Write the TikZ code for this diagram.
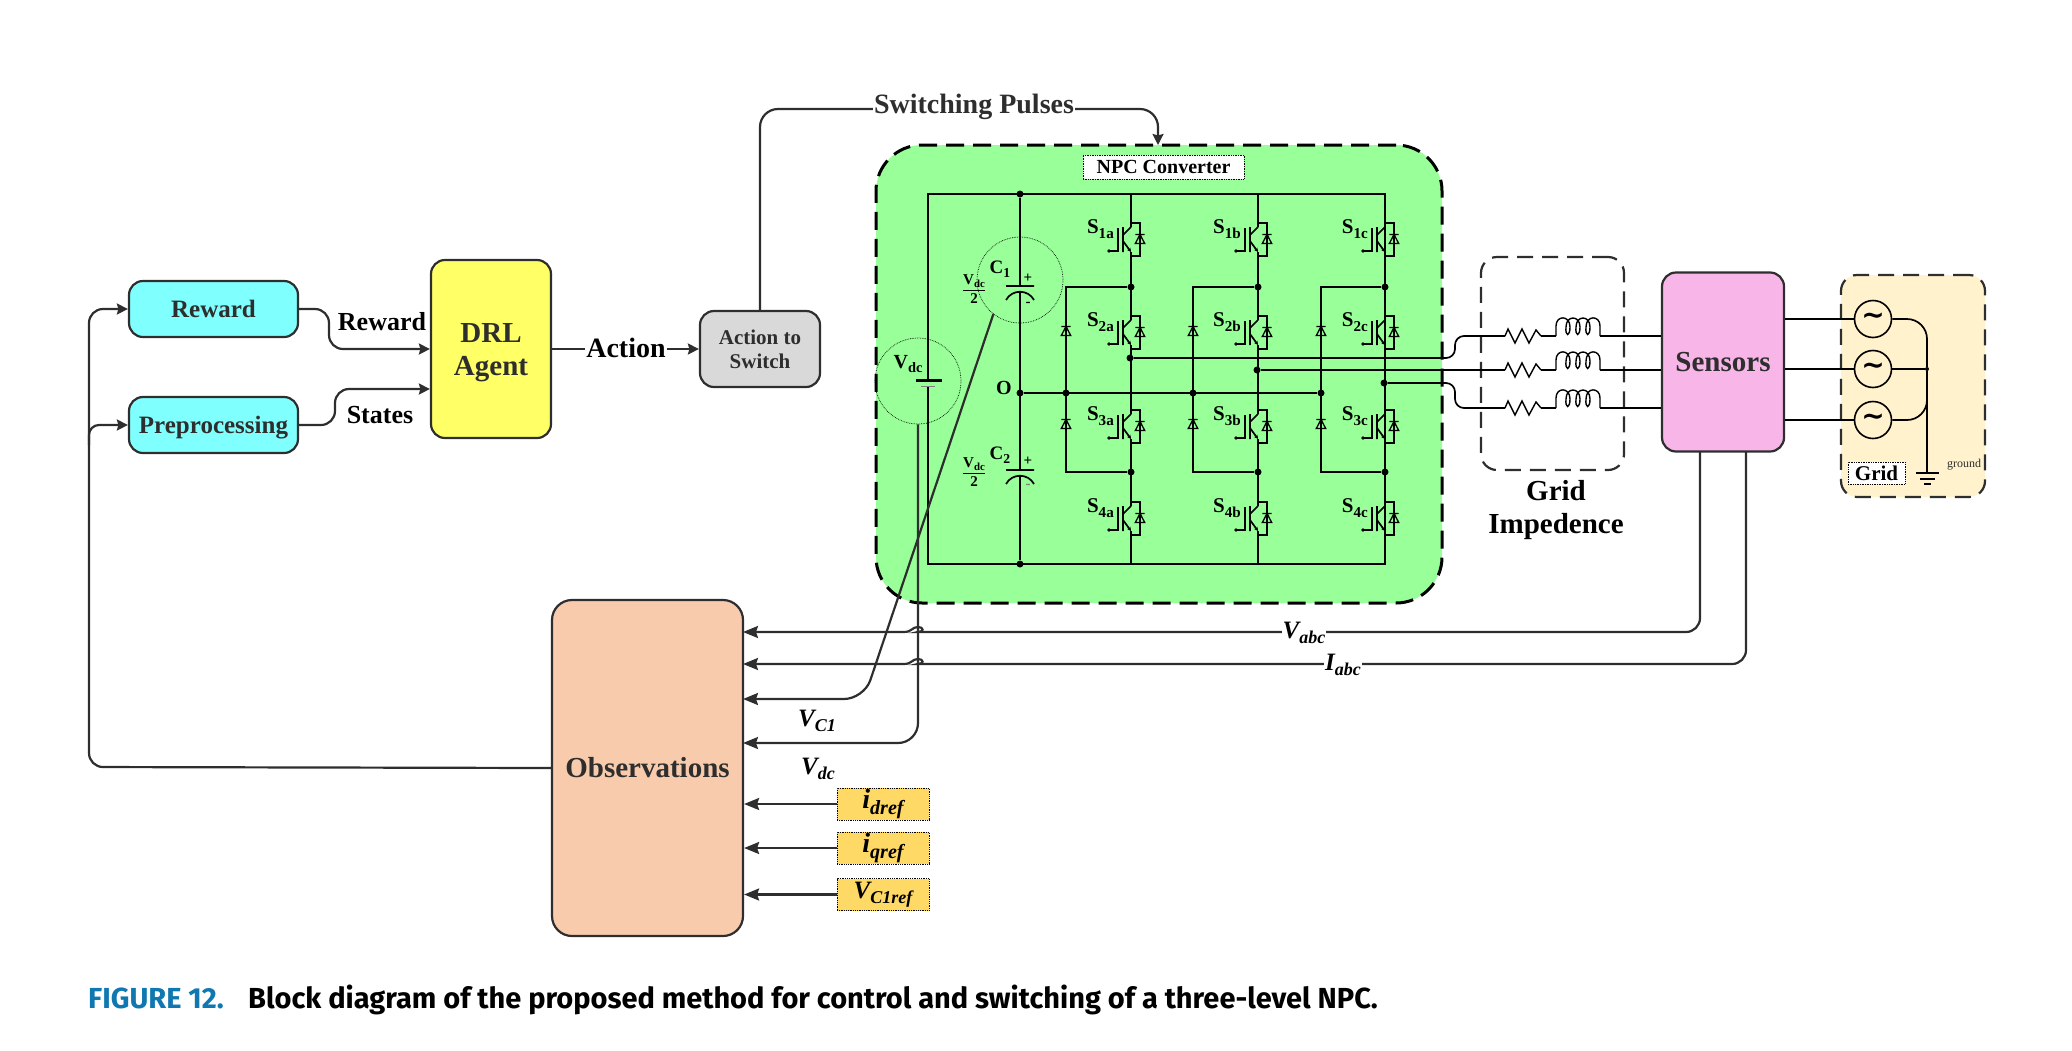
\documentclass[tikz,border=0pt]{standalone}
\usepackage{fontspec}
\setmainfont{Liberation Serif}
\newfontfamily\capfont{Fira Sans}
\newfontfamily\symfont{DejaVu Sans}
\usetikzlibrary{positioning}
\usetikzlibrary{arrows.meta}
\newcommand{\fsz}[2]{\fontsize{#1}{#2}\selectfont\bfseries}
\newcommand{\lowtxt}[1]{\raisebox{-.22em}{\scalebox{.72}{#1}}}
\definecolor{inkdark}{HTML}{2E2E2E}
\definecolor{npcgreen}{HTML}{99FF99}
\definecolor{boxcyan}{HTML}{80FFFF}
\definecolor{boxyellow}{HTML}{FFFF66}
\definecolor{boxgray}{HTML}{D9D9D9}
\definecolor{boxpeach}{HTML}{F8CBAD}
\definecolor{boxpink}{HTML}{F7B5E8}
\definecolor{boxcream}{HTML}{FFF2CC}
\definecolor{boxgold}{HTML}{FFD966}
\definecolor{capblue}{HTML}{0F78B0}
\tikzset{
    x=1pt, y=-1pt,
    block/.style = {draw=inkdark, line width=2.2pt, rounded corners=14pt, align=center, inner sep=0pt, text=inkdark},
    tagbox/.style = {draw=black, densely dotted, line width=0.7pt, fill=white, inner sep=0pt, text=black},
    refbox/.style = {draw=black, densely dotted, line width=0.8pt, fill=boxgold, inner sep=0pt, minimum width=92pt, minimum height=32pt, font=\fsz{#1}{28}\itshape},
    ring/.style = {circle, draw=black, densely dotted, line width=0.7pt, minimum size=86pt, inner sep=0pt},
    jdot/.style = {circle, fill=black, minimum size=7pt, inner sep=0pt},
    wire/.style = {-, line width=1.7pt, black},
    thinwire/.style = {-, line width=1.3pt, black},
    flow/.style = {line width=2.2pt, inkdark, -{Stealth[length=11pt,width=11pt,inset=1.5pt]}},
    flowb/.style = {line width=2.2pt, inkdark, -{Stealth[length=15pt,width=12pt,inset=2pt]}},
    dashbox/.style = {line width=2.2pt, inkdark, dash pattern=on 16pt off 9pt},
    acnode/.style = {circle, draw=black, line width=1.6pt, minimum size=37pt, inner sep=0pt, font=\symfont\fontsize{28}{28}\selectfont\bfseries},
    word/.style = {inner sep=1pt, fill=white, text=black},
    igbt/.pic = {
        \draw[thinwire] (0,-16) -- (9,-16) -- (9,17) -- (0,17);
        \draw[thinwire] (4.3,4.5) -- (9,-4.5) -- (13.7,4.5) -- cycle (4.3,-4.5) -- (13.7,-4.5);
        \draw[wire] (-8,-12) -- (-8,13) (-8,-4) -- (0,-12);
        \draw[wire, -{Stealth[length=4pt,width=4pt]}] (-8,2) -- (0,13);
        \draw[wire] (-13,-11) -- (-13,12) -- (-22,12);
        \fill (-22,12) circle (1.8);
    },
    clamp/.pic = {
        \draw[thinwire] (-4.7,4.5) -- (0,-4.5) -- (4.7,4.5) -- cycle (-4.7,-4.5) -- (4.7,-4.5);
    },
    respic/.pic = {
        \coordinate (-in) at (0,0);
        \coordinate (-out) at (36,0);
        \draw[wire, line width=1.4pt] (0,0) -- (3,-7) -- (10,7) -- (17,-7) -- (24,7) -- (31,-6) -- (36,0);
    },
    coilpic/.pic = {
        \coordinate (-in) at (0,0);
        \coordinate (-out) at (44,0);
        \draw[wire, line width=1.4pt] (0,0) -- (0,-10) .. controls (0,-21) and (14,-21) .. (14,-9)
            .. controls (14,1) and (9,1) .. (10,-9) .. controls (10,-21) and (24,-21) .. (24,-9)
            .. controls (24,1) and (19,1) .. (20,-9) .. controls (20,-21) and (34,-21) .. (34,-9)
            .. controls (34,1) and (29,1) .. (30,-9) .. controls (30,-21) and (44,-21) .. (44,-10) -- (44,0);
    }
}
\begin{document}
\begin{tikzpicture}
\useasboundingbox (0,0) rectangle (2072,1050);
% enclosures
\node[draw=black, fill=npcgreen, line width=3pt, dash pattern=on 18pt off 9pt, rounded corners=46pt, minimum width=566pt, minimum height=458pt, inner sep=0pt] at (1159,374) (npc) {};
\node[dashbox, draw, rounded corners=16pt, minimum width=143pt, minimum height=213pt, inner sep=0pt] at (1552.5,363.5) (impbox) {};
\node[dashbox, draw, fill=boxcream, rounded corners=16pt, minimum width=144pt, minimum height=222pt, inner sep=0pt] at (1913,386) (gridbox) {};
\node[tagbox, font=\fsz{20}{22}, minimum width=161pt, minimum height=24pt] at (1163.5,167) (npclabel) {NPC Converter};
\node[tagbox, font=\fsz{21}{23}, minimum width=57pt, minimum height=22pt] at (1876.5,473) (gridlabel) {Grid};
% blocks
\node[block, fill=boxcyan, font=\fsz{25}{28}, minimum width=169pt, minimum height=56pt] at (213.5,309) (reward) {Reward};
\node[block, fill=boxcyan, font=\fsz{25}{28}, text depth=0pt, minimum width=169pt, minimum height=56pt] at (213.5,425) (prep) {Preprocessing};
\node[block, fill=boxyellow, font=\fsz{29}{33}, minimum width=120pt, minimum height=178pt] at (491,349) (drl) {\rule{0pt}{26pt}DRL\\Agent};
\node[block, fill=boxgray, font=\fsz{21}{24}, minimum width=120pt, minimum height=76pt] at (760,349) (act) {Action to\\Switch};
\node[block, fill=boxpeach, font=\fsz{29}{33}, rounded corners=20pt, minimum width=191pt, minimum height=336pt] at (647.5,768) (obs) {Observations};
\node[block, fill=boxpink, font=\fsz{29}{33}, minimum width=122pt, minimum height=179pt] at (1723,362) (sensors) {Sensors};
\node[refbox=28] at (883,804) (idref) {\textit{i}\lowtxt{\textit{dref}}};
\node[refbox=28] at (883,848) (iqref) {\textit{i}\lowtxt{\textit{qref}}};
\node[refbox=25] at (883,894.5) (vref) {\textit{V}\lowtxt{\textit{C1ref}}};
% free ends of the signal wires
\coordinate (fbturn) at (89,767);
\coordinate (fbup) at (89,309);
\coordinate (fbmid) at (89,425);
\coordinate (fbbranch) at (89,445);
\coordinate (rw1) at (329,309);
\coordinate (rw2) at (329,349);
\coordinate (st1) at (335,425);
\coordinate (st2) at (335,389);
\coordinate (pulse1) at (760,109);
\coordinate (pulse2) at (1158,109);
\coordinate (pulse3) at (1158,145);
\coordinate (sv) at (1700,451);
\coordinate (si) at (1746,451);
\coordinate (sv1) at (1700,632);
\coordinate (si1) at (1746,664);
\coordinate (hv1) at (932,632);
\coordinate (hv2) at (904,632);
\coordinate (hi1) at (932,664);
\coordinate (hi2) at (904,664);
\coordinate (vin) at (743,632);
\coordinate (iin) at (743,664);
\coordinate (c1in) at (743,699);
\coordinate (c1bend) at (864,699);
\coordinate (dcin) at (743,743);
\coordinate (dcbend) at (918,743);
% circuit frame
\coordinate (tl) at (928,194);
\coordinate (bl) at (928,564);
\coordinate (tr) at (1385,194);
\coordinate (br) at (1385,564);
\coordinate (bat1) at (928,380);
\coordinate (bat2) at (928,386);
\draw[wire] (bat1) -- (tl) -- (tr) -- (br) -- (bl) -- (bat2);
\draw[wire, line width=3pt] (915.5,380) -- (941.5,380);
\draw[line width=1pt, gray] (921,386) -- (935,386);
% capacitors
\node[jdot] at (1020,194) (captop) {};
\node[jdot] at (1020,393) (mid) {};
\node[jdot] at (1020,564) (capbot) {};
\coordinate (c1a) at (1020,286);
\coordinate (c1b) at (1020,291);
\coordinate (c2a) at (1020,470);
\coordinate (c2b) at (1020,475);
\draw[wire] (captop) -- (c1a) (c1b) -- (c2a) (c2b) -- (capbot);
\draw[wire] (1006,286) -- (1034,286) (1006,300) .. controls (1012,289) and (1028,289) .. (1034,300);
\draw[wire] (1006,470) -- (1034,470) (1006,484) .. controls (1012,473) and (1028,473) .. (1034,484);
\node[font=\fsz{15}{15}, inner sep=0pt] at (1028,278) (p1) {+};
\node[font=\fsz{15}{15}, inner sep=0pt] at (1028,304) (m1) {-};
\node[font=\fsz{15}{15}, inner sep=0pt] at (1028,461) (p2) {+};
\node[font=\fsz{15}{15}, inner sep=0pt, text=gray] at (1028,486) (m2) {-};
\node[font=\fsz{19}{19}, inner sep=0pt] at (1000,269) (c1txt) {C\lowtxt{1}};
\node[font=\fsz{19}{19}, inner sep=0pt] at (1000,455) (c2txt) {C\lowtxt{2}};
\node[font=\fsz{15}{18}, inner sep=0pt] at (974,289) (half1) {$\displaystyle\frac{\mbox{\fsz{15}{18}V\lowtxt{dc}}}{\mbox{\fsz{15}{18}2}}$};
\node[font=\fsz{15}{18}, inner sep=0pt] at (974,472) (half2) {$\displaystyle\frac{\mbox{\fsz{15}{18}V\lowtxt{dc}}}{\mbox{\fsz{15}{18}2}}$};
\node[font=\fsz{20}{20}, inner sep=0pt] at (908,364) (vdctxt) {V\lowtxt{dc}};
\node[font=\fsz{20}{20}, inner sep=0pt] at (1004,388) (otxt) {O};
\node[ring] at (1020,280) (c1ring) {};
\node[ring] at (918,381) (vdcring) {};
% phase legs
\foreach \c/\x/\d in {a/1131/1066, b/1258/1193, c/1385/1321} {
    \foreach \ya/\yb in {194/227, 252/320, 345/414, 439/506, 531/564}
        \draw[wire] (\x,\ya) -- (\x,\yb);
    \foreach \r/\y in {1/239, 2/332, 3/426, 4/518} {
        \pic at (\x,\y) {igbt};
        \node[font=\fsz{21}{21}, inner sep=0pt, anchor=east] at (\x-17,\y-10) (s\r\c) {S\lowtxt{\r\c}};
    }
    \node[jdot] at (\x,287) (u\c) {};
    \node[jdot] at (\x,472) (l\c) {};
    \node[jdot] at (\d,393) (n\c) {};
    \coordinate (cu\c) at (\d,287);
    \coordinate (cl\c) at (\d,472);
    \draw[wire] (u\c) -- (cu\c) -- (cl\c) -- (l\c);
    \pic at (\d,331) {clamp};
    \pic at (\d,424) {clamp};
}
\draw[wire] (mid) -- (nc);
% outputs and grid impedance
\node[jdot] at (1130,358) (oa) {};
\node[jdot] at (1257,370) (ob) {};
\node[jdot] at (1384,383) (oc) {};
\pic (ra) at (1505,336) {respic};
\pic (rb) at (1505,370) {respic};
\pic (rc) at (1505,408) {respic};
\pic (la) at (1556,336) {coilpic};
\pic (lb) at (1556,370) {coilpic};
\pic (lc) at (1556,408) {coilpic};
\coordinate (ta1) at (1455,358);
\coordinate (ta2) at (1455,336);
\coordinate (tc1) at (1455,383);
\coordinate (tc2) at (1455,408);
\draw[wire, rounded corners=9pt] (oa) -- (ta1) -- (ta2) -- (ra-in);
\draw[wire] (ob) -- (rb-in);
\draw[wire, rounded corners=9pt] (oc) -- (tc1) -- (tc2) -- (rc-in);
\foreach \p in {a,b,c} {
    \draw[wire] (r\p-out) -- (l\p-in);
    \draw[wire] (l\p-out) -- (sensors.west |- l\p-out);
}
% grid
\node[acnode] at (1873,319) (ac1) {∼};
\node[acnode] at (1873,369) (ac2) {∼};
\node[acnode] at (1873,420) (ac3) {∼};
\draw[wire] (sensors.east |- ac1) -- (ac1);
\draw[wire] (sensors.east |- ac2) -- (ac2);
\draw[wire] (sensors.east |- ac3) -- (ac3);
\node[jdot, minimum size=4pt] at (1927,369) (star) {};
\coordinate (gnd) at (1927,473);
\draw[wire, rounded corners=20pt] (ac1) -| (star);
\draw[wire, rounded corners=20pt] (ac3) -| (star);
\draw[wire] (ac2) -- (star) -- (gnd);
\draw[wire, line width=2pt] (1916,473) -- (1939,473) (1920,479) -- (1935,479) (1924,484) -- (1931,484);
\node[font=\fontsize{12}{12}\selectfont, inner sep=0pt, text=inkdark] at (1964,465) (gndtxt) {ground};
% signal flow
\draw[flow, rounded corners=14pt] (obs.west) -- (fbturn) -- (fbup) -- (reward.west);
\draw[flow, rounded corners=10pt] (fbbranch) -- (fbmid) -- (prep.west);
\draw[flow, rounded corners=14pt] (reward.east) -- (rw1) -- (rw2) -- (drl.west);
\draw[flow, rounded corners=14pt] (prep.east) -- (st1) -- (st2) -- (drl.west |- st2);
\draw[flow] (drl.east) -- (act.west);
\draw[flow, rounded corners=18pt] (act.north) -- (pulse1) -- (pulse2) -- (pulse3);
\draw[flowb, rounded corners=14pt] (sv) -- (sv1) -- (hv1) [sharp corners] .. controls (924,632) and (924,627) .. (918,627) .. controls (912,627) and (912,632) .. (hv2) -- (vin);
\draw[flowb, rounded corners=14pt] (si) -- (si1) -- (hi1) [sharp corners] .. controls (924,664) and (924,659) .. (918,659) .. controls (912,659) and (912,664) .. (hi2) -- (iin);
\draw[flowb, rounded corners=20pt] (c1ring.232) -- (c1bend) -- (c1in);
\draw[flowb, rounded corners=20pt] (vdcring.south) -- (dcbend) -- (dcin);
\draw[flowb] (idref.west) -- (obs.east |- idref);
\draw[flowb] (iqref.west) -- (obs.east |- iqref);
\draw[flowb] (vref.west) -- (obs.east |- vref);
% labels
\node[word, font=\fsz{26}{28}] at (382,322) (lreward) {Reward};
\node[word, font=\fsz{26}{28}] at (380,415) (lstates) {States};
\node[word, font=\fsz{28}{30}] at (626,348) (laction) {Action};
\node[word, font=\fsz{28}{30}, text=inkdark] at (974,107) (lpulses) {Switching Pulses};
\node[word, font=\fsz{25}{28}\itshape] at (1304,633) (lvabc) {V\lowtxt{abc}};
\node[word, font=\fsz{25}{28}\itshape] at (1343,665) (liabc) {I\lowtxt{abc}};
\node[font=\fsz{25}{28}\itshape, inner sep=0pt] at (817,721) (lvc1) {V\lowtxt{C1}};
\node[font=\fsz{25}{28}\itshape, inner sep=0pt] at (818,769) (lvdc) {V\lowtxt{dc}};
\node[font=\fsz{29}{33}, align=center, inner sep=0pt] at (1556,510) (limp) {Grid\\Impedence};
% caption
\node[anchor=base west, inner sep=0pt, font=\capfont\fontsize{29}{31}\selectfont\bfseries, text=capblue] at (88,1008) (figno) {FIGURE 12.};
\node[anchor=base west, inner sep=0pt, font=\capfont\fontsize{29}{31}\selectfont\bfseries, text=black] at (248,1008) (figcap) {Block diagram of the proposed method for control and switching of a three-level NPC.};
\end{tikzpicture}
\end{document}
